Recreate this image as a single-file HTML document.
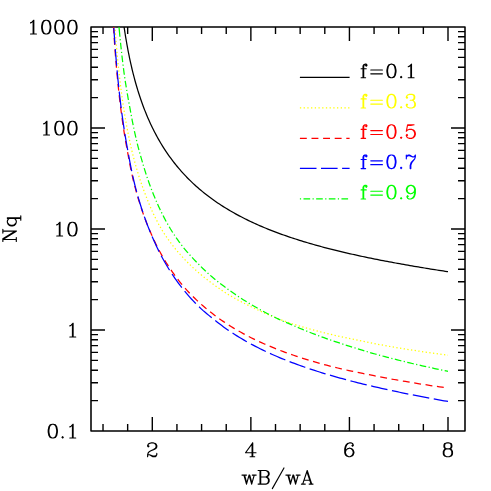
<!DOCTYPE html>
<html><head><meta charset="utf-8"><title>Nq vs wB/wA</title>
<style>html,body{margin:0;padding:0;background:#fff;font-family:"Liberation Sans",sans-serif}svg{display:block}</style>
</head><body>
<svg width="491" height="491" viewBox="0 0 491 491">
<rect width="491" height="491" fill="#fff"/>
<path d="M103.02 431v-7M103.02 27v7M127.66 431v-7M127.66 27v7M152.3 431v-14M152.3 27v14M176.94 431v-7M176.94 27v7M201.58 431v-7M201.58 27v7M226.23 431v-7M226.23 27v7M250.87 431v-14M250.87 27v14M275.51 431v-7M275.51 27v7M300.15 431v-7M300.15 27v7M324.79 431v-7M324.79 27v7M349.43 431v-14M349.43 27v14M374.07 431v-7M374.07 27v7M398.72 431v-7M398.72 27v7M423.36 431v-7M423.36 27v7M448 431v-14M448 27v14M91 400.6h7M465 400.6h-7M91 382.81h7M465 382.81h-7M91 370.19h7M465 370.19h-7M91 360.4h7M465 360.4h-7M91 352.41h7M465 352.41h-7M91 345.65h7M465 345.65h-7M91 339.79h7M465 339.79h-7M91 334.62h7M465 334.62h-7M91 330h14M465 330h-14M91 299.6h7M465 299.6h-7M91 281.81h7M465 281.81h-7M91 269.19h7M465 269.19h-7M91 259.4h7M465 259.4h-7M91 251.41h7M465 251.41h-7M91 244.65h7M465 244.65h-7M91 238.79h7M465 238.79h-7M91 233.62h7M465 233.62h-7M91 229h14M465 229h-14M91 198.6h7M465 198.6h-7M91 180.81h7M465 180.81h-7M91 168.19h7M465 168.19h-7M91 158.4h7M465 158.4h-7M91 150.41h7M465 150.41h-7M91 143.65h7M465 143.65h-7M91 137.79h7M465 137.79h-7M91 132.62h7M465 132.62h-7M91 128h14M465 128h-14M91 97.6h7M465 97.6h-7M91 79.81h7M465 79.81h-7M91 67.19h7M465 67.19h-7M91 57.4h7M465 57.4h-7M91 49.41h7M465 49.41h-7M91 42.65h7M465 42.65h-7M91 36.79h7M465 36.79h-7M91 31.62h7M465 31.62h-7" fill="none" stroke="#000" stroke-width="1.4"/>
<path d="M91 27H465V431H91Z" fill="none" stroke="#000" stroke-width="1.55" stroke-linejoin="round"/>
<clipPath id="c"><rect x="91.0" y="26.7" width="374.0" height="404.3"/></clipPath>
<g clip-path="url(#c)" fill="none" stroke-width="1.25">
<path d="M124.09 27L124.4 29.08L124.72 31.15L125.04 33.23L125.37 35.3L125.71 37.37L126.06 39.44L126.42 41.51L126.78 43.58L127.15 45.65L127.53 47.71L127.92 49.78L128.32 51.84L128.73 53.9L129.14 55.96L129.57 58.01L130.01 60.07L130.45 62.12L130.91 64.17L131.38 66.22L131.85 68.26L132.34 70.31L132.84 72.34L133.35 74.38L133.88 76.42L134.41 78.45L134.96 80.47L135.52 82.5L136.09 84.52L136.68 86.53L137.28 88.55L137.89 90.56L138.51 92.56L139.15 94.56L139.81 96.56L140.48 98.55L141.16 100.53L141.86 102.51L142.57 104.49L143.3 106.46L144.04 108.42L144.8 110.38L145.58 112.33L146.37 114.28L147.18 116.21L148.01 118.14L148.85 120.07L149.71 121.98L150.59 123.89L151.48 125.79L152.4 127.68L153.33 129.57L154.28 131.44L155.24 133.3L156.23 135.16L157.23 137L158.26 138.83L159.3 140.66L160.36 142.47L161.44 144.27L162.54 146.06L163.66 147.84L164.79 149.6L165.95 151.36L167.13 153.09L168.32 154.82L169.54 156.53L170.77 158.23L172.03 159.92L173.3 161.59L174.59 163.25L175.9 164.89L177.23 166.51L178.58 168.12L179.94 169.72L181.33 171.3L182.73 172.86L184.15 174.41L185.59 175.94L187.04 177.45L188.52 178.95L190.01 180.42L191.52 181.89L193.04 183.33L194.58 184.76L196.14 186.17L197.71 187.56L199.29 188.94L200.9 190.29L202.51 191.63L204.15 192.96L205.79 194.26L207.45 195.55L209.12 196.82L210.81 198.07L212.51 199.31L214.22 200.52L215.94 201.73L217.67 202.91L219.42 204.08L221.18 205.23L222.95 206.36L224.72 207.48L226.51 208.58L228.31 209.66L230.12 210.73L231.94 211.78L233.76 212.82L235.6 213.84L237.44 214.85L239.29 215.84L241.15 216.81L243.02 217.78L244.89 218.72L246.77 219.66L248.66 220.58L250.56 221.48L252.46 222.37L254.36 223.25L256.28 224.12L258.2 224.97L260.12 225.81L262.05 226.64L263.99 227.46L265.93 228.26L267.87 229.05L269.82 229.83L271.77 230.6L273.73 231.36L275.69 232.11L277.66 232.84L279.63 233.57L281.61 234.29L283.58 234.99L285.56 235.69L287.55 236.38L289.54 237.05L291.53 237.72L293.52 238.38L295.52 239.03L297.52 239.67L299.52 240.3L301.53 240.93L303.53 241.54L305.54 242.15L307.56 242.75L309.57 243.34L311.59 243.93L313.61 244.51L315.63 245.08L317.65 245.64L319.68 246.2L321.7 246.75L323.73 247.29L325.76 247.83L327.79 248.35L329.83 248.88L331.86 249.4L333.9 249.91L335.94 250.41L337.98 250.91L340.02 251.41L342.06 251.9L344.1 252.38L346.15 252.86L348.2 253.33L350.24 253.8L352.29 254.26L354.34 254.72L356.39 255.17L358.44 255.62L360.5 256.06L362.55 256.5L364.6 256.94L366.66 257.37L368.71 257.8L370.77 258.22L372.83 258.64L374.89 259.05L376.95 259.46L379.01 259.87L381.07 260.27L383.13 260.67L385.19 261.07L387.26 261.46L389.32 261.85L391.38 262.23L393.45 262.62L395.51 263L397.58 263.37L399.65 263.74L401.71 264.11L403.78 264.48L405.85 264.85L407.92 265.21L409.99 265.57L412.06 265.92L414.13 266.27L416.2 266.62L418.27 266.97L420.34 267.32L422.41 267.66L424.48 268L426.56 268.34L428.63 268.68L430.7 269.01L432.78 269.34L434.85 269.67L436.93 270L439 270.32L441.08 270.64L443.15 270.97L445.23 271.28L447.3 271.6L448 271.71" stroke="#000"/>
<path d="M114.9 27L114.93 27.31M115.1 29.71L115.2 31.01M115.39 33.41L115.49 34.7M115.68 37.1L115.78 38.4M115.98 40.8L116.09 42.09M116.29 44.49L116.4 45.78M116.61 48.18L116.73 49.47M116.95 51.87L117.07 53.17M117.29 55.56L117.41 56.85M117.64 59.25L117.77 60.54M118.01 62.94L118.14 64.23M118.39 66.62L118.52 67.92M118.78 70.31L118.92 71.6M119.18 73.99L119.33 75.28M119.6 77.67L119.75 78.97M120.03 81.36L120.18 82.65M120.48 85.03L120.64 86.32M120.94 88.71L121.1 90M121.42 92.39L121.59 93.67M121.91 96.06L122.09 97.35M122.42 99.73L122.61 101.02M122.95 103.4L123.14 104.68M123.5 107.06L123.7 108.35M124.07 110.72L124.28 112.01M124.66 114.38L124.87 115.66M125.27 118.04L125.49 119.32M125.91 121.69L126.13 122.97M126.56 125.34L126.8 126.61M127.24 128.98L127.49 130.26M127.95 132.62L128.2 133.89M128.68 136.25L128.94 137.52M129.44 139.88L129.71 141.15M130.22 143.5L130.51 144.77M131.04 147.11L131.33 148.38M131.88 150.72L132.19 151.98M132.76 154.32L133.08 155.58M133.67 157.91L134 159.17M134.62 161.5L134.96 162.75M135.6 165.07L135.95 166.32M136.62 168.63L136.99 169.88M137.68 172.18L138.06 173.43M138.77 175.72L139.17 176.96M139.91 179.25L140.32 180.49M141.09 182.76L141.51 183.99M142.31 186.26L142.75 187.49M143.58 189.74L144.04 190.96M144.9 193.21L145.37 194.42M146.21 196.67L146.67 197.89M147.54 200.13L148.02 201.34M148.92 203.57L149.42 204.77M150.36 206.99L150.87 208.18M151.85 210.38L152.38 211.57M153.39 213.75L153.95 214.92M155 217.09L155.57 218.25M156.66 220.4L157.26 221.56M158.38 223.68L159 224.83M160.16 226.93L160.81 228.06M162.01 230.14L162.71 231.24M164.01 233.27L164.72 234.35M166.06 236.35L166.8 237.42M168.18 239.39L168.93 240.45M170.35 242.39L171.13 243.44M172.59 245.35L173.38 246.38M174.88 248.26L175.7 249.27M177.24 251.12L178.08 252.11M179.66 253.92L180.52 254.9M182.14 256.68L183.02 257.64M184.66 259.39L185.56 260.33M187.24 262.05L188.16 262.97M189.87 264.66L190.81 265.56M192.55 267.22L193.51 268.11M195.28 269.73L196.25 270.59M198.06 272.18L199.04 273.03M200.88 274.59L201.88 275.42M203.74 276.94L204.76 277.75M206.65 279.24L207.67 280.04M209.59 281.49L210.63 282.27M212.55 283.72L213.59 284.5M215.53 285.92L216.59 286.68M218.56 288.06L219.63 288.8M221.61 290.16L222.69 290.88M224.71 292.2L225.8 292.91M227.83 294.2L228.93 294.89M231 296.12L232.12 296.77M234.21 297.96L235.35 298.6M237.45 299.75L238.6 300.37M240.72 301.5L241.87 302.1M244.01 303.2L245.17 303.79M247.33 304.86L248.5 305.43M250.66 306.48L251.83 307.06M253.98 308.12L255.15 308.69M257.33 309.73L258.5 310.28M260.68 311.29L261.87 311.83M264.06 312.82L265.25 313.34M267.45 314.3L268.65 314.82M270.86 315.76L272.06 316.26M274.29 317.18L275.49 317.67M277.72 318.56L278.93 319.04M281.18 319.9L282.4 320.34M284.67 321.16L285.89 321.59M288.16 322.39L289.39 322.81M291.67 323.59L292.91 323.98M295.2 324.71L296.44 325.09M298.74 325.79L299.99 326.17M302.29 326.85L303.54 327.22M305.85 327.89L307.1 328.24M309.42 328.89L310.67 329.24M312.99 329.87L314.25 330.21M316.57 330.83L317.83 331.16M320.16 331.76L321.42 332.09M323.75 332.67L325.01 332.99M327.35 333.56L328.61 333.87M330.95 334.43L332.22 334.73M334.56 335.27L335.83 335.57M338.17 336.1L339.44 336.38M341.79 336.9L343.06 337.18M345.41 337.69L346.68 337.96M349.04 338.46L350.31 338.72M352.67 339.21L353.94 339.47M356.3 339.94L357.58 340.19M359.94 340.66L361.21 340.92M363.56 341.41L364.84 341.67M367.19 342.15L368.47 342.41M370.83 342.88L372.1 343.13M374.47 343.59L375.74 343.83M378.11 344.28L379.38 344.52M381.75 344.96L383.03 345.2M385.39 345.63L386.67 345.86M389.04 346.28L390.32 346.5M392.69 346.92L393.97 347.14M396.35 347.54L397.63 347.76M400 348.16L401.28 348.37M403.66 348.76L404.94 348.97M407.32 349.35L408.6 349.55M410.98 349.93L412.26 350.13M414.64 350.49L415.92 350.69M418.3 351.05L419.59 351.24M421.97 351.59L423.25 351.78M425.64 352.12L426.92 352.31M429.3 352.65L430.59 352.83M432.97 353.16L434.26 353.34M436.65 353.67L437.93 353.84M440.32 354.16L441.61 354.33M443.99 354.64L445.28 354.81M447.67 355.12L448 355.16" stroke="#ffff00"/>
<path d="M113.5 27L113.66 29.6L113.82 32.19L113.9 33.39M114.2 37.98L114.37 40.57L114.55 43.17L114.67 44.86M115 49.45L115.2 52.04L115.4 54.63L115.53 56.33M115.9 60.91L116.11 63.51L116.33 66.1L116.48 67.79M116.88 72.37L117.12 74.96L117.37 77.55L117.53 79.24M117.98 83.82L118.24 86.41L118.51 88.99L118.69 90.68M119.19 95.26L119.49 97.84L119.79 100.42L119.99 102.11M120.54 106.68L120.87 109.26L121.2 111.83L121.42 113.52M122.04 118.08L122.4 120.65L122.77 123.23L123.01 124.91M123.7 129.46L124.1 132.03L124.51 134.59L124.78 136.27M125.55 140.81L125.99 143.37L126.45 145.93L126.75 147.6M127.6 152.12L128.05 154.68L128.51 157.24L128.82 158.91M129.68 163.43L130.19 165.98L130.71 168.53L131.05 170.2M132.02 174.69L132.58 177.23L133.16 179.76L133.57 181.42M134.7 185.87L135.37 188.39L136.05 190.9L136.5 192.53M137.77 196.96L138.51 199.45L139.28 201.93L139.79 203.56M141.21 207.93L142.05 210.39L142.9 212.85L143.47 214.45M145.05 218.77L145.97 221.2L146.91 223.62L147.54 225.2M149.29 229.46L150.31 231.85L151.35 234.23L152.04 235.79M153.97 239.96L155.08 242.31L156.21 244.65L156.96 246.18M159.05 250.28L160.3 252.56L161.57 254.83L162.41 256.3M164.76 260.26L166.12 262.48L167.51 264.67L168.43 266.1M170.98 269.93L172.47 272.06L173.98 274.18L174.98 275.55M177.75 279.22L179.35 281.27L180.99 283.29L182.07 284.61M185.05 288.11L186.78 290.05L188.53 291.97L189.7 293.21M192.91 296.5L194.76 298.32L196.64 300.12L197.88 301.29M201.28 304.38L203.24 306.09L205.22 307.78L206.52 308.87M210.1 311.76L212.15 313.36L214.22 314.93L215.58 315.95M219.29 318.67L221.42 320.17L223.56 321.64L224.97 322.59M228.82 325.11L231.02 326.49L233.24 327.85L234.69 328.73M238.66 331.05L240.93 332.33L243.21 333.58L244.7 334.39M248.78 336.52L251.1 337.7L253.42 338.85L254.95 339.6M259.11 341.56L261.48 342.65L263.85 343.71L265.41 344.39M269.64 346.2L272.04 347.2L274.45 348.17L276.03 348.8M280.31 350.47L282.75 351.39L285.19 352.29L286.78 352.87M291.12 354.4L293.58 355.25L296.04 356.08L297.65 356.62M302.03 358.04L304.51 358.82L306.99 359.59L308.62 360.09M313.03 361.4L315.52 362.13L318.02 362.84L319.66 363.31M324.09 364.53L326.6 365.2L329.12 365.87L330.76 366.3M335.23 367.41L337.75 368.01L340.29 368.61L341.94 368.99M346.43 370.01L348.97 370.57L351.51 371.12L353.17 371.48M357.67 372.42L360.22 372.95L362.77 373.47L364.43 373.8M368.95 374.69L371.5 375.2L374.04 375.71L375.71 376.04M380.23 376.92L382.78 377.41L385.34 377.89L387.01 378.2M391.53 379.03L394.09 379.5L396.65 379.95L398.32 380.25M402.86 381.04L405.42 381.47L407.98 381.91L409.66 382.19M414.2 382.93L416.76 383.35L419.33 383.76L421.01 384.03M425.55 384.74L428.12 385.14L430.69 385.53L432.38 385.79M436.92 386.47L439.5 386.85L442.07 387.22L443.75 387.47" stroke="#ff0000"/>
<path d="M113.82 27.9L113.99 30.49L114.16 33.09L114.33 35.68L114.51 38.28L114.69 40.87L114.88 43.46L114.96 44.56M115.3 49.15L115.5 51.74L115.7 54.33L115.91 56.92L116.13 59.51L116.34 62.1L116.57 64.69L116.66 65.79M117.08 70.37L117.32 72.96L117.56 75.55L117.81 78.14L118.07 80.72L118.33 83.31L118.6 85.9L118.72 86.99M119.21 91.56L119.5 94.15L119.8 96.73L120.1 99.31L120.41 101.9L120.73 104.48L121.05 107.06L121.19 108.15M121.78 112.71L122.13 115.28L122.49 117.86L122.85 120.43L123.22 123.01L123.6 125.58L123.99 128.15L124.16 129.24M124.88 133.78L125.3 136.35L125.73 138.91L126.16 141.48L126.61 144.04L127.07 146.6L127.54 149.15L127.74 150.23M128.55 154.76L129.01 157.32L129.49 159.88L129.97 162.43L130.46 164.98L130.97 167.53L131.49 170.08L131.71 171.16M132.67 175.66L133.24 178.2L133.82 180.73L134.44 183.25L135.08 185.78L135.73 188.29L136.39 190.81L136.68 191.87M137.91 196.3L138.62 198.8L139.36 201.29L140.12 203.78L140.9 206.26L141.69 208.74L142.51 211.21L142.85 212.25M144.35 216.6L145.22 219.05L146.11 221.49L147.02 223.93L147.95 226.36L148.91 228.77L149.88 231.19L150.3 232.2M152.08 236.44L153.12 238.82L154.18 241.2L155.25 243.57L156.34 245.93L157.45 248.28L158.59 250.62L159.09 251.6M161.2 255.68L162.44 257.97L163.69 260.25L164.97 262.51L166.28 264.76L167.61 266.99L168.97 269.21L169.56 270.14M172.05 274.01L173.49 276.17L174.96 278.32L176.45 280.44L177.98 282.55L179.53 284.64L181.1 286.71L181.78 287.58M184.65 291.17L186.31 293.17L188 295.15L189.71 297.1L191.45 299.04L193.23 300.93L195.03 302.8L195.81 303.59M199.08 306.82L200.96 308.61L202.88 310.37L204.85 312.06L206.84 313.74L208.85 315.39L210.87 317.02L211.74 317.7M215.31 320.6L217.35 322.21L219.41 323.8L221.49 325.36L223.58 326.9L225.7 328.41L227.83 329.89L228.74 330.52M232.56 333.07L234.75 334.48L236.95 335.87L239.16 337.23L241.39 338.57L243.63 339.89L245.89 341.18L246.84 341.72M250.87 343.95L253.16 345.17L255.47 346.38L257.78 347.56L260.11 348.73L262.44 349.87L264.79 351L265.78 351.47M269.96 353.4L272.33 354.46L274.71 355.51L277.09 356.54L279.49 357.55L281.89 358.55L284.3 359.53L285.32 359.94M289.6 361.62L292.03 362.55L294.46 363.46L296.9 364.36L299.35 365.25L301.8 366.12L304.25 366.98L305.29 367.34M309.64 368.82L312.11 369.64L314.58 370.44L317.06 371.24L319.54 372.02L322.02 372.79L324.51 373.55L325.56 373.87M329.97 375.18L332.47 375.91L334.97 376.62L337.47 377.33L339.97 378.03L342.48 378.72L344.99 379.39L346.05 379.68M350.5 380.85L353.02 381.51L355.54 382.15L358.06 382.79L360.58 383.41L363.11 384.03L365.63 384.65L366.7 384.91M371.18 385.97L373.71 386.56L376.24 387.15L378.78 387.72L381.31 388.3L383.85 388.86L386.39 389.42L387.46 389.66M391.96 390.63L394.5 391.17L397.05 391.71L399.59 392.24L402.14 392.77L404.69 393.29L407.23 393.8L408.31 394.02M412.82 394.92L415.38 395.42L417.93 395.92L420.48 396.41L423.03 396.9L425.59 397.39L428.14 397.87L429.22 398.07M433.75 398.91L436.3 399.38L438.86 399.84L441.42 400.3L443.98 400.76L446.54 401.22L448 401.48" stroke="#0000ff"/>
<path d="M119.01 27L119.06 27.6M119.01 27L119.25 29.59L119.49 32.18L119.74 34.77L119.92 36.69M120.16 39.13L120.28 40.32M120.53 42.76L120.8 45.34L121.08 47.93L121.24 49.4M121.5 51.83L121.64 53.03M121.91 55.46L122.21 58.04L122.52 60.63L122.69 62.1M122.99 64.53L123.14 65.72M123.45 68.15L123.78 70.73L124.12 73.31L124.31 74.77M124.66 77.2L124.84 78.38M125.21 80.81L125.61 83.37L126.02 85.94L126.26 87.4M126.66 89.82L126.85 91M127.26 93.42L127.71 95.98L128.16 98.54L128.42 100M128.87 102.41L129.09 103.59M129.54 106L130.03 108.55L130.48 111.11L130.74 112.57M131.18 114.98L131.4 116.16M131.86 118.56L132.35 121.12L132.86 123.67L133.16 125.12M133.65 127.52L133.9 128.69M134.41 131.08L134.97 133.62L135.54 136.16L135.88 137.6M136.44 139.99L136.71 141.16M137.29 143.54L137.92 146.06L138.57 148.58L138.94 150.01M139.59 152.37L139.91 153.53M140.59 155.88L141.32 158.38L142.05 160.87L142.46 162.3M143.14 164.65L143.48 165.8M144.18 168.15L144.95 170.63L145.74 173.11L146.19 174.52M146.97 176.84L147.35 177.98M148.15 180.3L149.01 182.75L149.9 185.19L150.41 186.58M151.27 188.87L151.7 189.99M152.6 192.27L153.57 194.69L154.57 197.09L155.14 198.45M156.1 200.7L156.58 201.81M157.56 204.05L158.63 206.42L159.73 208.78L160.36 210.11M161.43 212.32L161.96 213.4M163.06 215.58L164.26 217.89L165.48 220.19L166.19 221.49M167.38 223.63L167.97 224.67M169.19 226.8L170.52 229.03L171.9 231.23L172.7 232.48M174.05 234.53L174.71 235.52M176.09 237.55L177.58 239.68L179.1 241.79L179.97 242.99M181.43 244.95L182.16 245.91M183.68 247.83L185.35 249.82L187.05 251.79L188.02 252.91M189.64 254.74L190.45 255.63M192.1 257.44L193.87 259.35L195.66 261.23L196.68 262.3M198.4 264.05L199.24 264.91M200.98 266.63L202.84 268.45L204.71 270.25L205.79 271.27M207.58 272.93L208.47 273.75M210.29 275.38L212.27 277.07L214.26 278.74L215.41 279.68M217.31 281.22L218.25 281.96M220.18 283.47L222.25 285.05L224.33 286.61L225.52 287.49M227.5 288.93L228.48 289.62M230.48 291.04L232.6 292.55L234.73 294.03L235.95 294.87M237.98 296.24L238.98 296.9M241.03 298.25L243.22 299.66L245.42 301.04L246.67 301.82M248.76 303.1L249.79 303.72M251.89 304.98L254.14 306.29L256.39 307.58L257.68 308.31M259.82 309.51L260.87 310.08M263.03 311.25L265.32 312.48L267.62 313.69L268.94 314.37M271.12 315.48L272.19 316.02M274.38 317.11L276.72 318.25L279.06 319.38L280.41 320M282.65 320.98L283.75 321.46M286.01 322.42L288.4 323.43L290.8 324.44L292.15 325.03M294.4 326.01L295.5 326.49M297.75 327.45L300.15 328.46L302.55 329.45L303.92 330.01M306.2 330.93L307.31 331.37M309.59 332.27L312.01 333.22L314.44 334.15L315.82 334.67M318.12 335.54L319.24 335.95M321.54 336.8L323.98 337.68L326.43 338.56L327.83 339.05M330.14 339.86L331.28 340.25M333.59 341.05L336.06 341.88L338.52 342.7L339.93 343.17M342.26 343.93L343.4 344.3M345.73 345.05L348.21 345.83L350.69 346.61L352.11 347.04M354.45 347.76L355.6 348.11M357.94 348.82L360.43 349.56L362.91 350.35L364.32 350.79M366.66 351.51L367.81 351.87M370.15 352.58L372.66 353.29L375.16 353.99L376.59 354.39M378.95 355.04L380.11 355.35M382.47 355.99L384.98 356.66L387.5 357.33L388.93 357.7M391.3 358.32L392.46 358.62M394.84 359.22L397.36 359.86L399.88 360.49L401.32 360.84M403.7 361.43L404.86 361.71M407.24 362.29L409.77 362.89L412.3 363.49L413.74 363.83M416.13 364.38L417.3 364.65M419.69 365.2L422.22 365.77L424.76 366.34L426.2 366.66M428.6 367.19L429.77 367.45M432.16 367.97L434.7 368.52L437.25 369.06L438.7 369.36M441.09 369.87L442.27 370.11M444.67 370.61L447.21 371.13L448 371.29" stroke="#00ff00"/>
</g>
<path d="M299.9 77.35H349.6" fill="none" stroke="#000" stroke-width="1.25"/>
<path d="M366.26 64.83L365.61 65.48L366.26 66.12L366.91 65.48L366.91 64.83L366.26 64.18L364.97 64.18L363.68 64.83L363.03 66.12L363.03 77.75M364.97 64.18L364.32 64.83L363.68 66.12L363.68 77.75M361.09 68.71L366.26 68.71M361.09 77.75L365.61 77.75M370.78 70L382.41 70M370.78 73.87L382.41 73.87M390.81 64.18L388.87 64.83L387.58 66.77L386.93 70L386.93 71.94L387.58 75.17L388.87 77.1L390.81 77.75L392.1 77.75L394.04 77.1L395.33 75.17L395.98 71.94L395.98 70L395.33 66.77L394.04 64.83L392.1 64.18L390.81 64.18M390.81 64.18L389.52 64.83L388.87 65.48L388.22 66.77L387.58 70L387.58 71.94L388.22 75.17L388.87 76.46L389.52 77.1L390.81 77.75M392.1 77.75L393.39 77.1L394.04 76.46L394.68 75.17L395.33 71.94L395.33 70L394.68 66.77L394.04 65.48L393.39 64.83L392.1 64.18M401.14 76.46L400.5 77.1L401.14 77.75L401.79 77.1L401.14 76.46M408.25 66.77L409.54 66.12L411.48 64.18L411.48 77.75M410.83 64.83L410.83 77.75M408.25 77.75L414.06 77.75" fill="none" stroke="#000" stroke-width="1.15" stroke-linecap="round" stroke-linejoin="round"/>
<path d="M299.9 107.85H349.6" fill="none" stroke="#ffff00" stroke-width="1.25" stroke-dasharray="1.3 2.41"/>
<path d="M366.26 95.03L365.61 95.68L366.26 96.32L366.91 95.68L366.91 95.03L366.26 94.38L364.97 94.38L363.68 95.03L363.03 96.32L363.03 107.95M364.97 94.38L364.32 95.03L363.68 96.32L363.68 107.95M361.09 98.91L366.26 98.91M361.09 107.95L365.61 107.95M370.78 100.2L382.41 100.2M370.78 104.07L382.41 104.07M390.81 94.38L388.87 95.03L387.58 96.97L386.93 100.2L386.93 102.14L387.58 105.37L388.87 107.3L390.81 107.95L392.1 107.95L394.04 107.3L395.33 105.37L395.98 102.14L395.98 100.2L395.33 96.97L394.04 95.03L392.1 94.38L390.81 94.38M390.81 94.38L389.52 95.03L388.87 95.68L388.22 96.97L387.58 100.2L387.58 102.14L388.22 105.37L388.87 106.66L389.52 107.3L390.81 107.95M392.1 107.95L393.39 107.3L394.04 106.66L394.68 105.37L395.33 102.14L395.33 100.2L394.68 96.97L394.04 95.68L393.39 95.03L392.1 94.38M401.14 106.66L400.5 107.3L401.14 107.95L401.79 107.3L401.14 106.66M406.96 96.97L407.6 97.61L406.96 98.26L406.31 97.61L406.31 96.97L406.96 95.68L407.6 95.03L409.54 94.38L412.13 94.38L414.06 95.03L414.71 96.32L414.71 98.26L414.06 99.55L412.13 100.2L410.19 100.2M412.13 94.38L413.42 95.03L414.06 96.32L414.06 98.26L413.42 99.55L412.13 100.2M412.13 100.2L413.42 100.84L414.71 102.14L415.36 103.43L415.36 105.37L414.71 106.66L414.06 107.3L412.13 107.95L409.54 107.95L407.6 107.3L406.96 106.66L406.31 105.37L406.31 104.72L406.96 104.07L407.6 104.72L406.96 105.37M414.06 101.49L414.71 103.43L414.71 105.37L414.06 106.66L413.42 107.3L412.13 107.95" fill="none" stroke="#ffff00" stroke-width="1.15" stroke-linecap="round" stroke-linejoin="round"/>
<path d="M299.9 138.25H349.6" fill="none" stroke="#ff0000" stroke-width="1.25" stroke-dasharray="6.9 4.7"/>
<path d="M366.26 125.43L365.61 126.08L366.26 126.72L366.91 126.08L366.91 125.43L366.26 124.78L364.97 124.78L363.68 125.43L363.03 126.72L363.03 138.35M364.97 124.78L364.32 125.43L363.68 126.72L363.68 138.35M361.09 129.31L366.26 129.31M361.09 138.35L365.61 138.35M370.78 130.6L382.41 130.6M370.78 134.47L382.41 134.47M390.81 124.78L388.87 125.43L387.58 127.37L386.93 130.6L386.93 132.54L387.58 135.77L388.87 137.7L390.81 138.35L392.1 138.35L394.04 137.7L395.33 135.77L395.98 132.54L395.98 130.6L395.33 127.37L394.04 125.43L392.1 124.78L390.81 124.78M390.81 124.78L389.52 125.43L388.87 126.08L388.22 127.37L387.58 130.6L387.58 132.54L388.22 135.77L388.87 137.06L389.52 137.7L390.81 138.35M392.1 138.35L393.39 137.7L394.04 137.06L394.68 135.77L395.33 132.54L395.33 130.6L394.68 127.37L394.04 126.08L393.39 125.43L392.1 124.78M401.14 137.06L400.5 137.7L401.14 138.35L401.79 137.7L401.14 137.06M407.6 124.78L406.31 131.24M406.31 131.24L407.6 129.95L409.54 129.31L411.48 129.31L413.42 129.95L414.71 131.24L415.36 133.18L415.36 134.47L414.71 136.41L413.42 137.7L411.48 138.35L409.54 138.35L407.6 137.7L406.96 137.06L406.31 135.77L406.31 135.12L406.96 134.47L407.6 135.12L406.96 135.77M411.48 129.31L412.77 129.95L414.06 131.24L414.71 133.18L414.71 134.47L414.06 136.41L412.77 137.7L411.48 138.35M407.6 124.78L414.06 124.78M407.6 125.43L410.83 125.43L414.06 124.78" fill="none" stroke="#ff0000" stroke-width="1.15" stroke-linecap="round" stroke-linejoin="round"/>
<path d="M299.9 168.45H349.6" fill="none" stroke="#0000ff" stroke-width="1.25" stroke-dasharray="16.6 4.5"/>
<path d="M366.26 155.63L365.61 156.28L366.26 156.92L366.91 156.28L366.91 155.63L366.26 154.98L364.97 154.98L363.68 155.63L363.03 156.92L363.03 168.55M364.97 154.98L364.32 155.63L363.68 156.92L363.68 168.55M361.09 159.51L366.26 159.51M361.09 168.55L365.61 168.55M370.78 160.8L382.41 160.8M370.78 164.67L382.41 164.67M390.81 154.98L388.87 155.63L387.58 157.57L386.93 160.8L386.93 162.74L387.58 165.97L388.87 167.9L390.81 168.55L392.1 168.55L394.04 167.9L395.33 165.97L395.98 162.74L395.98 160.8L395.33 157.57L394.04 155.63L392.1 154.98L390.81 154.98M390.81 154.98L389.52 155.63L388.87 156.28L388.22 157.57L387.58 160.8L387.58 162.74L388.22 165.97L388.87 167.26L389.52 167.9L390.81 168.55M392.1 168.55L393.39 167.9L394.04 167.26L394.68 165.97L395.33 162.74L395.33 160.8L394.68 157.57L394.04 156.28L393.39 155.63L392.1 154.98M401.14 167.26L400.5 167.9L401.14 168.55L401.79 167.9L401.14 167.26M406.31 154.98L406.31 158.86M406.31 157.57L406.96 156.28L408.25 154.98L409.54 154.98L412.77 156.92L414.06 156.92L414.71 156.28L415.36 154.98M406.96 156.28L408.25 155.63L409.54 155.63L412.77 156.92M415.36 154.98L415.36 156.92L414.71 158.86L412.13 162.09L411.48 163.38L410.83 165.32L410.83 168.55M414.71 158.86L411.48 162.09L410.83 163.38L410.19 165.32L410.19 168.55" fill="none" stroke="#0000ff" stroke-width="1.15" stroke-linecap="round" stroke-linejoin="round"/>
<path d="M299.9 198.85H349.6" fill="none" stroke="#00ff00" stroke-width="1.25" stroke-dasharray="1.2 2.4 6.65 2.4"/>
<path d="M366.26 186.03L365.61 186.68L366.26 187.32L366.91 186.68L366.91 186.03L366.26 185.38L364.97 185.38L363.68 186.03L363.03 187.32L363.03 198.95M364.97 185.38L364.32 186.03L363.68 187.32L363.68 198.95M361.09 189.91L366.26 189.91M361.09 198.95L365.61 198.95M370.78 191.2L382.41 191.2M370.78 195.07L382.41 195.07M390.81 185.38L388.87 186.03L387.58 187.97L386.93 191.2L386.93 193.14L387.58 196.37L388.87 198.3L390.81 198.95L392.1 198.95L394.04 198.3L395.33 196.37L395.98 193.14L395.98 191.2L395.33 187.97L394.04 186.03L392.1 185.38L390.81 185.38M390.81 185.38L389.52 186.03L388.87 186.68L388.22 187.97L387.58 191.2L387.58 193.14L388.22 196.37L388.87 197.66L389.52 198.3L390.81 198.95M392.1 198.95L393.39 198.3L394.04 197.66L394.68 196.37L395.33 193.14L395.33 191.2L394.68 187.97L394.04 186.68L393.39 186.03L392.1 185.38M401.14 197.66L400.5 198.3L401.14 198.95L401.79 198.3L401.14 197.66M414.71 189.91L414.06 191.84L412.77 193.14L410.83 193.78L410.19 193.78L408.25 193.14L406.96 191.84L406.31 189.91L406.31 189.26L406.96 187.32L408.25 186.03L410.19 185.38L411.48 185.38L413.42 186.03L414.71 187.32L415.36 189.26L415.36 193.14L414.71 195.72L414.06 197.01L412.77 198.3L410.83 198.95L408.9 198.95L407.6 198.3L406.96 197.01L406.96 196.37L407.6 195.72L408.25 196.37L407.6 197.01M410.19 193.78L408.9 193.14L407.6 191.84L406.96 189.91L406.96 189.26L407.6 187.32L408.9 186.03L410.19 185.38M411.48 185.38L412.77 186.03L414.06 187.32L414.71 189.26L414.71 193.14L414.06 195.72L413.42 197.01L412.13 198.3L410.83 198.95" fill="none" stroke="#00ff00" stroke-width="1.15" stroke-linecap="round" stroke-linejoin="round"/>
<path d="M30.53 22.87L31.84 22.21L33.8 20.24L33.8 34M33.15 20.9L33.15 34M30.53 34L36.42 34M45.59 20.24L43.63 20.9L42.32 22.87L41.66 26.14L41.66 28.11L42.32 31.38L43.63 33.34L45.59 34L46.91 34L48.87 33.34L50.18 31.38L50.83 28.11L50.83 26.14L50.18 22.87L48.87 20.9L46.91 20.24L45.59 20.24M45.59 20.24L44.28 20.9L43.63 21.55L42.98 22.87L42.32 26.14L42.32 28.11L42.98 31.38L43.63 32.69L44.28 33.34L45.59 34M46.91 34L48.22 33.34L48.87 32.69L49.52 31.38L50.18 28.11L50.18 26.14L49.52 22.87L48.87 21.55L48.22 20.9L46.91 20.24M58.7 20.24L56.73 20.9L55.42 22.87L54.77 26.14L54.77 28.11L55.42 31.38L56.73 33.34L58.7 34L60 34L61.97 33.34L63.28 31.38L63.94 28.11L63.94 26.14L63.28 22.87L61.97 20.9L60 20.24L58.7 20.24M58.7 20.24L57.38 20.9L56.73 21.55L56.08 22.87L55.42 26.14L55.42 28.11L56.08 31.38L56.73 32.69L57.38 33.34L58.7 34M60 34L61.31 33.34L61.97 32.69L62.62 31.38L63.28 28.11L63.28 26.14L62.62 22.87L61.97 21.55L61.31 20.9L60 20.24M71.8 20.24L69.83 20.9L68.52 22.87L67.86 26.14L67.86 28.11L68.52 31.38L69.83 33.34L71.8 34L73.11 34L75.07 33.34L76.38 31.38L77.03 28.11L77.03 26.14L76.38 22.87L75.07 20.9L73.11 20.24L71.8 20.24M71.8 20.24L70.48 20.9L69.83 21.55L69.17 22.87L68.52 26.14L68.52 28.11L69.17 31.38L69.83 32.69L70.48 33.34L71.8 34M73.11 34L74.42 33.34L75.07 32.69L75.72 31.38L76.38 28.11L76.38 26.14L75.72 22.87L75.07 21.55L74.42 20.9L73.11 20.24M43.63 123.86L44.94 123.21L46.91 121.25L46.91 135M46.25 121.9L46.25 135M43.63 135L49.52 135M58.7 121.25L56.73 121.9L55.42 123.86L54.77 127.14L54.77 129.1L55.42 132.38L56.73 134.34L58.7 135L60 135L61.97 134.34L63.28 132.38L63.94 129.1L63.94 127.14L63.28 123.86L61.97 121.9L60 121.25L58.7 121.25M58.7 121.25L57.38 121.9L56.73 122.56L56.08 123.86L55.42 127.14L55.42 129.1L56.08 132.38L56.73 133.69L57.38 134.34L58.7 135M60 135L61.31 134.34L61.97 133.69L62.62 132.38L63.28 129.1L63.28 127.14L62.62 123.86L61.97 122.56L61.31 121.9L60 121.25M71.8 121.25L69.83 121.9L68.52 123.86L67.86 127.14L67.86 129.1L68.52 132.38L69.83 134.34L71.8 135L73.11 135L75.07 134.34L76.38 132.38L77.03 129.1L77.03 127.14L76.38 123.86L75.07 121.9L73.11 121.25L71.8 121.25M71.8 121.25L70.48 121.9L69.83 122.56L69.17 123.86L68.52 127.14L68.52 129.1L69.17 132.38L69.83 133.69L70.48 134.34L71.8 135M73.11 135L74.42 134.34L75.07 133.69L75.72 132.38L76.38 129.1L76.38 127.14L75.72 123.86L75.07 122.56L74.42 121.9L73.11 121.25M56.73 224.87L58.04 224.21L60 222.25L60 236M59.35 222.9L59.35 236M56.73 236L62.62 236M71.8 222.25L69.83 222.9L68.52 224.87L67.86 228.14L67.86 230.1L68.52 233.38L69.83 235.34L71.8 236L73.11 236L75.07 235.34L76.38 233.38L77.03 230.1L77.03 228.14L76.38 224.87L75.07 222.9L73.11 222.25L71.8 222.25M71.8 222.25L70.48 222.9L69.83 223.56L69.17 224.87L68.52 228.14L68.52 230.1L69.17 233.38L69.83 234.69L70.48 235.34L71.8 236M73.11 236L74.42 235.34L75.07 234.69L75.72 233.38L76.38 230.1L76.38 228.14L75.72 224.87L75.07 223.56L74.42 222.9L73.11 222.25M69.83 325.87L71.14 325.21L73.11 323.25L73.11 337M72.45 323.9L72.45 337M69.83 337L75.72 337M52.14 424.25L50.18 424.9L48.87 426.87L48.22 430.14L48.22 432.11L48.87 435.38L50.18 437.35L52.14 438L53.45 438L55.42 437.35L56.73 435.38L57.38 432.11L57.38 430.14L56.73 426.87L55.42 424.9L53.45 424.25L52.14 424.25M52.14 424.25L50.83 424.9L50.18 425.56L49.52 426.87L48.87 430.14L48.87 432.11L49.52 435.38L50.18 436.69L50.83 437.35L52.14 438M53.45 438L54.77 437.35L55.42 436.69L56.08 435.38L56.73 432.11L56.73 430.14L56.08 426.87L55.42 425.56L54.77 424.9L53.45 424.25M62.62 436.69L61.97 437.35L62.62 438L63.28 437.35L62.62 436.69M69.83 426.87L71.14 426.21L73.11 424.25L73.11 438M72.45 424.9L72.45 438M69.83 438L75.72 438M148.27 445.56L148.93 446.22L148.27 446.88L147.62 446.22L147.62 445.56L148.27 444.25L148.93 443.6L150.89 442.94L153.51 442.94L155.48 443.6L156.13 444.25L156.79 445.56L156.79 446.88L156.13 448.19L154.17 449.5L150.89 450.81L149.58 451.46L148.27 452.77L147.62 454.74L147.62 456.7M153.51 442.94L154.82 443.6L155.48 444.25L156.13 445.56L156.13 446.88L155.48 448.19L153.51 449.5L150.89 450.81M147.62 455.39L148.27 454.74L149.58 454.74L152.86 456.05L154.82 456.05L156.13 455.39L156.79 454.74M149.58 454.74L152.86 456.7L155.48 456.7L156.13 456.05L156.79 454.74L156.79 453.43M252.08 444.25L252.08 456.7M252.73 442.94L252.73 456.7M252.73 442.94L245.53 452.77L256.01 452.77M250.11 456.7L254.7 456.7M352.61 444.91L351.95 445.56L352.61 446.22L353.26 445.56L353.26 444.91L352.61 443.6L351.3 442.94L349.33 442.94L347.37 443.6L346.06 444.91L345.4 446.22L344.75 448.84L344.75 452.77L345.4 454.74L346.71 456.05L348.68 456.7L349.99 456.7L351.95 456.05L353.26 454.74L353.92 452.77L353.92 452.12L353.26 450.15L351.95 448.84L349.99 448.19L349.33 448.19L347.37 448.84L346.06 450.15L345.4 452.12M349.33 442.94L348.02 443.6L346.71 444.91L346.06 446.22L345.4 448.84L345.4 452.77L346.06 454.74L347.37 456.05L348.68 456.7M349.99 456.7L351.3 456.05L352.61 454.74L353.26 452.77L353.26 452.12L352.61 450.15L351.3 448.84L349.99 448.19M446.59 442.94L444.62 443.6L443.97 444.91L443.97 446.88L444.62 448.19L446.59 448.84L449.21 448.84L451.17 448.19L451.83 446.88L451.83 444.91L451.17 443.6L449.21 442.94L446.59 442.94M446.59 442.94L445.28 443.6L444.62 444.91L444.62 446.88L445.28 448.19L446.59 448.84M449.21 448.84L450.52 448.19L451.17 446.88L451.17 444.91L450.52 443.6L449.21 442.94M446.59 448.84L444.62 449.5L443.97 450.15L443.31 451.46L443.31 454.08L443.97 455.39L444.62 456.05L446.59 456.7L449.21 456.7L451.17 456.05L451.83 455.39L452.48 454.08L452.48 451.46L451.83 450.15L451.17 449.5L449.21 448.84M446.59 448.84L445.28 449.5L444.62 450.15L443.97 451.46L443.97 454.08L444.62 455.39L445.28 456.05L446.59 456.7M449.21 456.7L450.52 456.05L451.17 455.39L451.83 454.08L451.83 451.46L451.17 450.15L450.52 449.5L449.21 448.84M243.91 475.06L246.49 484.1M244.55 475.06L246.49 482.16M249.08 475.06L246.49 484.1M249.08 475.06L251.66 484.1M249.72 475.06L251.66 482.16M254.24 475.06L251.66 484.1M241.97 475.06L246.49 475.06M252.31 475.06L256.18 475.06M260.06 470.53L260.06 484.1M260.7 470.53L260.7 484.1M258.12 470.53L265.87 470.53L267.81 471.18L268.46 471.83L269.1 473.12L269.1 474.41L268.46 475.7L267.81 476.35L265.87 476.99M265.87 470.53L267.16 471.18L267.81 471.83L268.46 473.12L268.46 474.41L267.81 475.7L267.16 476.35L265.87 476.99M260.7 476.99L265.87 476.99L267.81 477.64L268.46 478.29L269.1 479.58L269.1 481.52L268.46 482.81L267.81 483.45L265.87 484.1L258.12 484.1M265.87 476.99L267.16 477.64L267.81 478.29L268.46 479.58L268.46 481.52L267.81 482.81L267.16 483.45L265.87 484.1M283.96 467.95L272.33 488.62M287.84 475.06L290.42 484.1M288.48 475.06L290.42 482.16M293 475.06L290.42 484.1M293 475.06L295.59 484.1M293.65 475.06L295.59 482.16M298.17 475.06L295.59 484.1M285.9 475.06L290.42 475.06M296.23 475.06L300.11 475.06M307.22 470.53L302.69 484.1M307.22 470.53L311.74 484.1M307.22 472.47L311.09 484.1M303.99 480.22L309.8 480.22M301.4 484.1L305.28 484.1M309.15 484.1L313.03 484.1M2.86 239.46L16.3 239.46M2.86 238.82L15.02 231.14M4.14 238.82L16.3 231.14M2.86 231.14L16.3 231.14M2.86 241.38L2.86 238.82M2.86 233.06L2.86 229.22M16.3 241.38L16.3 237.54M7.34 218.34L20.78 218.34M7.34 217.7L20.78 217.7M9.26 218.34L7.98 219.62L7.34 220.9L7.34 222.18L7.98 224.1L9.26 225.38L11.18 226.02L12.46 226.02L14.38 225.38L15.66 224.1L16.3 222.18L16.3 220.9L15.66 219.62L14.38 218.34M7.34 222.18L7.98 223.46L9.26 224.74L11.18 225.38L12.46 225.38L14.38 224.74L15.66 223.46L16.3 222.18M20.78 220.26L20.78 215.78" fill="none" stroke="#000" stroke-width="1.15" stroke-linecap="round" stroke-linejoin="round"/>
</svg>
</body></html>
